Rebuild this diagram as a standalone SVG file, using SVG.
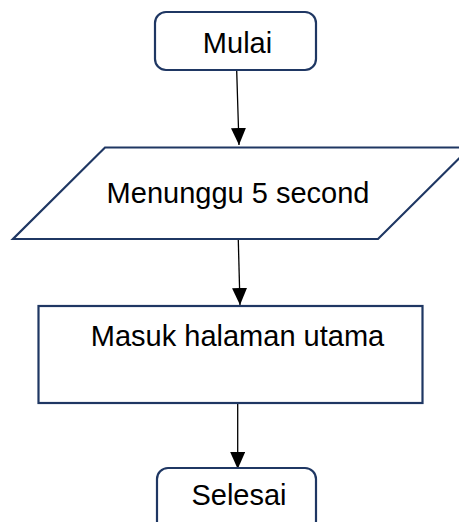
<svg xmlns="http://www.w3.org/2000/svg" width="459" height="522" viewBox="0 0 459 522">
<defs>
<style>
.shape{fill:#ffffff;stroke:#1f3763;stroke-width:2.2}
.lbl{font-family:"Liberation Sans",Arial,sans-serif;font-size:29px;fill:#000;text-anchor:middle}
.conn{stroke:#000;stroke-width:1.3;fill:none}
</style>
<marker id="arr" markerWidth="16" markerHeight="18" refX="8" refY="17" orient="auto-start-reverse" markerUnits="userSpaceOnUse" viewBox="0 0 16 18">
<path d="M0,0 L16,0 L8,17 Z" transform="rotate(-90 8 8.5) translate(0,0)" fill="#000"/>
</marker>
<marker id="ah" markerWidth="17" markerHeight="15" refX="17" refY="7.5" orient="auto" markerUnits="userSpaceOnUse" viewBox="0 0 17 15">
<path d="M0,0 L17,7.5 L0,15 Z" fill="#000"/>
</marker>
</defs>
<g id="connectors">
<line class="conn" x1="236.7" y1="71" x2="239" y2="145" marker-end="url(#ah)"/>
<line class="conn" x1="238.3" y1="240" x2="240" y2="305" marker-end="url(#ah)"/>
<line class="conn" x1="237.7" y1="404" x2="237.7" y2="469" marker-end="url(#ah)"/>
</g>
<g id="mulai">
<rect class="shape" x="155" y="12" width="161" height="58" rx="11"/>
<text class="lbl" x="237.5" y="52.5">Mulai</text>
</g>
<g id="menunggu">
<polygon class="shape" points="105,147.5 470,147.5 378,239 13,239"/>
<text class="lbl" x="238" y="202.5">Menunggu 5 second</text>
</g>
<g id="masuk">
<rect class="shape" x="38.5" y="306" width="384" height="97"/>
<text class="lbl" x="237.5" y="346">Masuk halaman utama</text>
</g>
<g id="selesai">
<rect class="shape" x="157" y="468" width="159" height="64" rx="11"/>
<text class="lbl" x="239" y="505">Selesai</text>
</g>
</svg>
